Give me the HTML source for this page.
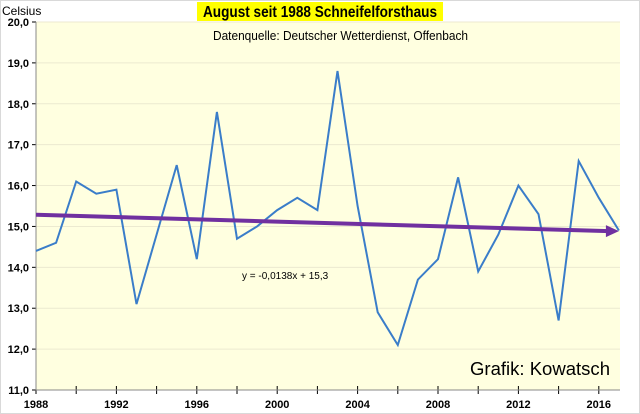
<!DOCTYPE html>
<html><head><meta charset="utf-8"><style>
body{margin:0;background:#fff;}
svg{display:block;font-family:"Liberation Sans",sans-serif;}
</style></head><body>
<svg width="640" height="414" viewBox="0 0 640 414">
<rect x="0.5" y="0.5" width="639" height="413" fill="#fff" stroke="#d9d9d9"/>
<rect x="36" y="22" width="584" height="368" fill="#ffffe0"/>
<g id="grid"></g>
<g id="axes"></g>
<rect x="197" y="2" width="246" height="19" fill="#ffff00"/>
<text x="203" y="17" textLength="234" lengthAdjust="spacingAndGlyphs" font-size="16" font-weight="bold">August seit 1988 Schneifelforsthaus</text>
<text x="213" y="40" textLength="255" lengthAdjust="spacingAndGlyphs" font-size="13">Datenquelle: Deutscher Wetterdienst, Offenbach</text>
<text x="2" y="15" font-size="12">Celsius</text>
<text x="242" y="279" font-size="10">y = -0,0138x + 15,3</text>
<text x="470" y="375" textLength="140" lengthAdjust="spacingAndGlyphs" font-size="18">Grafik: Kowatsch</text>
<g id="series"></g>
</svg>
<script>
const years=[1988,1989,1990,1991,1992,1993,1994,1995,1996,1997,1998,1999,2000,2001,2002,2003,2004,2005,2006,2007,2008,2009,2010,2011,2012,2013,2014,2015,2016,2017];
const temps=[14.4,14.6,16.1,15.8,15.9,13.1,14.8,16.5,14.2,17.8,14.7,15.0,15.4,15.7,15.4,18.8,15.5,12.9,12.1,13.7,14.2,16.2,13.9,14.8,16.0,15.3,12.7,16.6,15.7,14.9];
const yTicks=[11,12,13,14,15,16,17,18,19,20];
const xTicks=[1988,1992,1996,2000,2004,2008,2012,2016];
const trendSlope=-0.0138, trendIntercept=15.3;
const NS="http://www.w3.org/2000/svg";
const X=y=>36+(y-1988)*20.1;
const Y=v=>390-(v-11)*40.89;
function mk(tag,attrs,parent){const e=document.createElementNS(NS,tag);for(const k in attrs)e.setAttribute(k,attrs[k]);document.getElementById(parent).appendChild(e);return e;}
yTicks.forEach(v=>{
  if(v>11){const g=mk('line',{x1:36,x2:620,y1:Y(v),y2:Y(v),stroke:'#ecead0','stroke-width':1},'grid');
  
  }
  const t=mk('line',{x1:32,x2:36,y1:Y(v),y2:Y(v),stroke:'#000'},'axes');
  
  
  const l=mk('text',{x:29,y:Y(v)+4,'text-anchor':'end','font-size':11,'font-weight':'bold'},'axes');
  l.textContent=v.toFixed(1).replace('.',',');
  
  
});
for(let y=1988;y<=2016;y+=2){
  const t=mk('line',{x1:X(y),x2:X(y),y1:386,y2:394,stroke:'#000'},'axes');
  
  
}
xTicks.forEach(y=>{
  const l=mk('text',{x:X(y),y:408,'text-anchor':'middle','font-size':11,'font-weight':'bold'},'axes');
  l.textContent=y;
  
  
});
const ax=mk('path',{d:'M36 22V390H620',fill:'none',stroke:'#888'},'axes');


const pts=years.map((y,i)=>X(y)+','+Y(temps[i])).join(' ');
const line=mk('polyline',{points:pts,fill:'none',stroke:'#3a7dc9','stroke-width':2},'series');


const t0=trendIntercept+trendSlope*1, t1=trendIntercept+trendSlope*years.length;
const x0=X(years[0]),x1=X(years[years.length-1]),y0=Y(t0),y1=Y(t1);
const tr=mk('line',{x1:x0,y1:y0,x2:x1-10,y2:y1,stroke:'#7030a0','stroke-width':4},'series');


const ah=mk('polygon',{points:`${x1},${y1} ${x1-13},${y1-6} ${x1-13},${y1+6}`,fill:'#7030a0'},'series');


</script>
</body></html>
